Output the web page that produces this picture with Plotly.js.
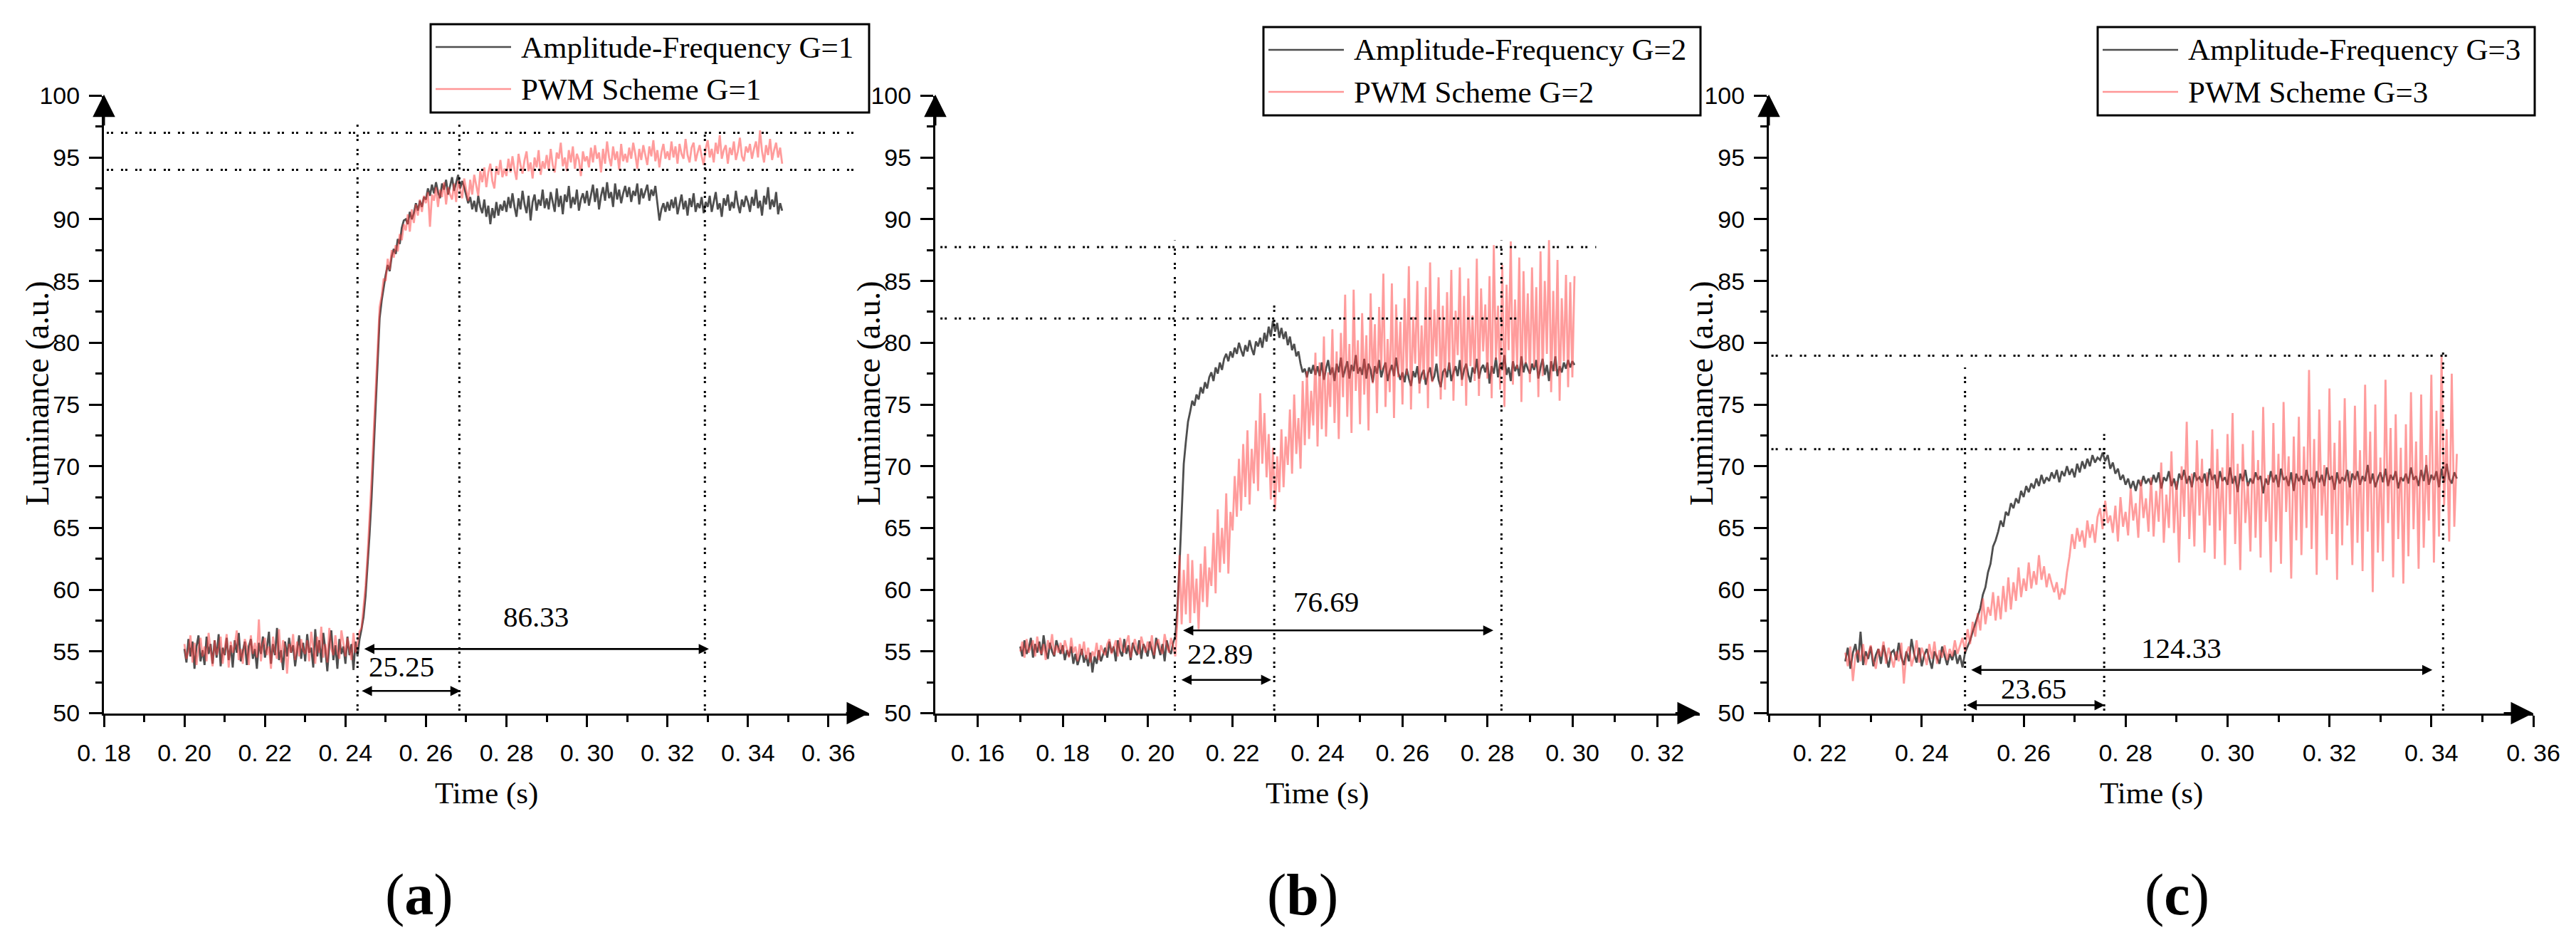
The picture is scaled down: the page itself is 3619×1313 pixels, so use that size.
<!DOCTYPE html>
<html>
<head>
<meta charset="utf-8">
<script src="https://cdn.plot.ly/plotly-3.0.1.min.js"></script>
<style>
  html, body { margin: 0; padding: 0; background: #fff; }
  #chart { width: 3619px; height: 1313px; }
</style>
</head>
<body>
<div id="chart"></div>
<script>
// Luminance step responses at 0.5 ms resolution
const SAMPLE_STEP = 0.0005;
const startG1 = 0.200, startG2 = 0.170, startG3 = 0.225;

// (a) G=1
const ampFreqG1 = [
  55.2, 54.1, 56.0, 54.6, 55.8, 53.6, 55.4, 56.3, 54.2, 55.1, 53.9, 56.2, 54.8, 55.6, 54.0, 55.9, 54.5, 56.4, 53.8, 55.3,
  54.7, 56.1, 54.3, 55.5, 53.7, 55.9, 54.9, 56.5, 54.2, 55.0, 55.8, 53.9, 55.4, 56.0, 54.4, 55.2, 53.6, 55.7, 54.8, 56.2,
  54.5, 55.3, 56.6, 54.0, 55.6, 54.7, 56.9, 54.3, 55.1, 53.5, 55.8, 54.6, 56.1, 54.9, 55.5, 53.8, 55.0, 56.3, 54.4, 55.7,
  54.2, 56.4, 54.9, 55.3, 53.7, 56.8, 54.6, 55.9, 54.1, 56.5, 55.2, 53.4, 55.6, 56.7, 54.3, 55.5, 53.6, 56.0, 54.8, 55.4,
  54.0, 56.2, 54.7, 55.6, 53.5, 55.8, 54.6, 56.0, 56.8, 57.8, 59.5, 61.8, 64.5, 67.5, 71.0, 75.0, 78.8, 82.0, 83.4, 84.6,
  85.5, 86.3, 85.8, 87.0, 87.6, 87.2, 88.4, 88.0, 89.3, 89.9, 90.0, 89.6, 90.6, 90.0, 90.5, 91.3, 90.7, 91.5, 91.0, 91.8,
  91.6, 92.5, 91.9, 92.8, 92.1, 93.0, 92.2, 91.7, 92.9, 92.4, 93.2, 92.0, 92.7, 93.4, 92.3, 92.9, 93.6, 92.5, 93.1, 92.6,
  92.0, 91.3, 91.8, 90.8, 91.5, 90.6, 91.9, 91.0, 90.5, 91.6, 90.2, 91.1, 89.6, 90.9, 90.1, 91.4, 90.3, 91.2, 90.7, 91.5,
  90.6, 91.8, 90.9, 92.1, 91.0, 90.2, 91.7, 90.8, 92.3, 91.2, 90.5, 91.9, 89.9, 91.4, 92.0, 90.7, 91.6, 91.1, 92.4, 90.9,
  91.7, 90.8, 92.2, 91.3, 90.6, 92.5, 91.0, 91.9, 90.4, 92.0, 91.4, 92.7, 90.9, 91.8, 91.2, 92.4, 90.7, 91.6, 92.1, 91.3,
  92.3, 91.1, 92.0, 92.8, 91.4, 92.5, 90.8, 91.9, 92.6, 91.5, 93.0, 91.7, 92.2, 91.0, 92.9, 91.6, 92.4, 91.3, 92.1, 92.7,
  91.8, 92.6, 91.4, 92.3, 91.9, 92.9, 91.2, 92.5, 91.7, 92.2, 92.8, 91.5, 92.4, 91.9, 92.7, 91.3, 89.9, 90.8, 91.3, 90.6,
  91.4, 90.7, 91.6, 90.9, 91.8, 90.4, 91.2, 92.0, 90.8, 91.5, 90.3, 91.7, 91.0, 92.1, 90.6, 91.3, 90.9, 91.8, 90.5, 91.4,
  91.0, 91.9, 90.6, 91.5, 92.2, 90.8, 91.3, 90.2, 91.7, 91.1, 92.0, 90.7, 91.4, 90.9, 92.3, 91.2, 90.5, 91.6, 91.0, 91.9,
  91.4, 90.6, 91.8, 91.1, 92.4, 90.9, 91.5, 90.3, 91.9, 91.2, 92.6, 90.8, 91.6, 91.0, 92.2, 90.4, 91.3, 90.7
];
const pwmG1 = [
  55.6, 54.4, 55.0, 56.3, 54.1, 55.7, 53.9, 55.2, 56.1, 54.6, 55.4, 54.2, 56.5, 55.0, 53.8, 55.9, 54.7, 55.3, 56.2, 54.0,
  55.1, 56.4, 53.7, 55.8, 54.9, 55.5, 56.7, 54.3, 55.2, 54.0, 56.0, 55.4, 53.9, 56.3, 54.8, 55.7, 54.5, 57.6, 54.2, 55.6,
  56.1, 54.7, 55.4, 53.6, 56.2, 55.0, 54.4, 56.8, 54.1, 55.9, 55.3, 53.2, 55.6, 54.9, 56.4, 54.3, 55.8, 54.6, 56.0, 55.1,
  54.8, 55.9, 54.2, 56.6, 55.3, 54.0, 56.2, 54.9, 57.0, 54.5, 55.6, 54.1, 56.9, 55.2, 54.7, 56.3, 55.0, 54.4, 56.7, 55.5,
  54.6, 56.1, 55.2, 54.3, 56.5, 54.9, 55.7, 56.6, 56.9, 58.4, 60.3, 62.8, 65.6, 69.0, 72.6, 76.2, 79.8, 82.9, 83.8, 85.2,
  85.0, 86.8, 85.9, 87.5, 86.9, 87.9, 87.4, 88.8, 88.3, 89.6, 89.1, 90.4, 89.0, 90.8, 89.7, 91.2, 90.3, 91.6, 90.6, 91.9,
  91.3, 92.2, 89.4, 92.0, 91.5, 92.6, 91.0, 92.4, 91.8, 93.0, 91.2, 92.6, 92.0, 91.6, 92.9, 91.4, 93.1, 92.3, 91.7, 93.3,
  92.4, 91.5, 93.2, 92.0, 93.6, 92.8, 91.9, 93.9, 93.0, 94.2, 92.6, 93.8, 94.5, 93.1, 92.5, 94.3, 93.6, 94.8, 93.4, 94.1,
  93.5, 94.9, 93.8, 95.1, 94.0, 93.2, 95.3, 94.4, 93.7, 94.8, 95.5, 93.9, 94.6, 93.3, 95.0, 94.2, 95.6, 93.6, 94.7, 94.1,
  95.2, 94.0, 95.7, 94.4, 93.8, 95.4, 94.9, 96.2, 94.3, 95.0, 93.9, 95.6, 94.6, 95.9, 94.1, 95.3, 94.8, 93.5, 95.5, 94.7,
  95.1, 94.2, 95.8, 94.6, 96.0, 94.9, 95.4, 93.8, 95.7, 94.5, 96.3, 95.0, 94.3, 95.9, 94.8, 95.5, 94.0, 96.1, 94.7, 95.3,
  94.6, 95.8, 94.9, 96.2, 95.3, 94.1, 95.7, 94.8, 96.0, 95.2, 94.4, 95.9, 95.1, 96.4, 94.7, 95.6, 94.2, 95.4, 96.1, 94.9,
  95.5, 94.8, 96.3, 95.0, 95.9, 94.5, 96.1, 95.3, 94.9, 96.5, 95.2, 94.6, 95.8, 96.2, 94.7, 95.4, 96.0, 95.1, 94.4, 95.7,
  96.4, 95.0, 95.7, 94.6, 96.2, 95.3, 96.8, 94.9, 95.6, 96.0, 94.5, 95.8, 95.2, 96.3, 94.8, 95.5, 96.6, 95.1, 94.7, 95.9,
  95.4, 96.1, 94.9, 95.7, 96.3, 95.0, 97.2, 95.5, 94.6, 96.0, 95.2, 96.5, 94.8, 95.6, 96.2, 95.0, 95.8, 94.5
];

// (b) G=2
const ampFreqG2 = [
  55.4, 54.6, 55.9, 54.8, 55.2, 56.1, 54.5, 55.6, 54.9, 55.8, 54.7, 56.3, 55.1, 54.4, 55.7, 55.0, 54.6, 55.9, 55.3, 54.8,
  55.5, 54.3, 55.1, 54.6, 55.4, 54.0, 54.8, 53.9, 54.5, 55.2, 54.1, 54.7, 53.8, 54.9, 53.3, 54.6, 54.0, 55.1, 54.2, 54.8,
  55.3, 54.5, 55.8, 54.9, 55.4, 54.2, 55.9, 55.0, 54.6, 56.0, 54.8, 55.5, 54.3, 55.7, 55.1, 54.7, 55.9, 54.4, 55.6, 55.2,
  54.6, 55.8, 55.0, 54.4, 56.1, 55.3, 54.7, 55.6, 54.2, 55.9, 55.1, 54.8, 55.7, 56.2, 58.5, 62.0, 66.5, 70.2, 72.0, 73.6,
  74.4, 75.3, 74.9, 75.8, 75.4, 76.4, 75.9, 76.8, 76.3, 77.2, 77.6, 76.9, 78.0, 77.5, 78.4, 77.8, 78.7, 79.1, 78.5, 79.3,
  78.8, 79.6, 79.1, 80.0, 79.4, 78.9, 79.8, 79.3, 80.2, 79.5, 79.0, 80.1, 79.7, 80.4, 79.6, 80.8, 80.1, 81.3, 80.5, 81.8,
  80.9, 81.6, 80.4, 81.2, 80.3, 80.9, 79.8, 80.5, 79.4, 79.9, 78.9, 79.3, 78.3, 77.6, 77.9, 77.2, 78.0, 77.5, 78.2, 77.4,
  78.1, 77.3, 78.4, 77.0, 77.9, 78.6, 77.4, 78.0, 76.9, 78.3, 77.6, 78.8, 77.2, 77.9, 78.5, 77.1, 78.2, 77.7, 79.0, 77.5,
  78.0, 77.4, 78.7, 77.1, 78.3, 77.8, 76.8, 78.1, 77.5, 78.6, 77.2, 77.9, 78.4, 76.9, 77.7, 78.2, 77.3, 78.8, 77.6, 77.0,
  77.6, 76.8, 77.9, 77.1, 76.5, 77.7, 77.2, 78.1, 76.7, 77.4, 77.8, 76.6, 77.5, 78.0, 76.9, 77.3, 78.3, 77.0, 76.4, 77.6,
  77.9, 77.2, 78.4, 76.9, 77.6, 78.1, 77.3, 78.6, 77.0, 77.8, 78.3, 77.4, 76.8, 78.0, 77.5, 78.7, 77.1, 77.9, 78.2, 77.6,
  78.4, 76.7, 78.1, 77.5, 78.8, 77.2, 78.3, 77.8, 79.0, 77.4, 78.0, 76.9, 78.5, 77.7, 78.2, 77.3, 78.9, 77.6, 78.4, 77.9,
  77.5, 78.3, 77.8, 78.6, 77.1, 78.0, 78.7, 77.4, 78.2, 76.9, 78.5, 77.7, 78.9, 77.3, 78.1, 77.6, 78.4, 77.9, 78.6, 78.0,
  78.5, 78.2
];
const pwmG2 = [
  55.0, 55.8, 54.5, 56.0, 54.9, 55.4, 55.9, 54.6, 56.2, 55.1, 54.8, 55.6, 54.3, 55.9, 55.2, 56.4, 54.7, 55.5, 54.9, 55.7,
  54.8, 55.9, 55.2, 54.5, 56.1, 54.9, 55.4, 54.2, 55.6, 54.7, 55.8, 54.4, 55.3, 54.1, 55.0, 54.6, 55.7, 54.3, 55.5, 55.0,
  54.7, 55.6, 56.0, 54.8, 55.3, 55.9, 54.6, 56.1, 55.2, 54.9, 55.7, 56.3, 54.5, 55.4, 56.0, 55.1, 54.8, 56.2, 55.5, 54.9,
  55.8, 55.1, 56.3, 54.7, 55.6, 56.0, 55.2, 54.8, 56.4, 55.5, 54.9, 56.1, 55.4, 54.6, 57.5, 62.8, 57.2, 61.6, 58.0, 62.9,
  57.3, 62.4, 58.1, 60.9, 56.8, 62.1, 59.0, 63.5, 58.6, 61.8, 60.3, 64.6, 59.7, 66.5, 61.4, 65.0, 62.1, 67.8, 61.3, 66.3,
  64.8, 69.2, 65.9, 70.6, 66.4, 71.8, 67.5, 72.9, 66.9, 71.4, 68.6, 73.7, 68.0, 75.9, 70.2, 74.3, 69.1, 72.6, 67.3, 71.5,
  66.5, 70.8, 67.9, 73.0, 68.3, 72.4, 70.1, 74.6, 69.4, 75.8, 71.0, 73.9, 69.8, 76.9, 71.7, 77.7, 72.2, 76.1, 73.3, 79.2,
  71.6, 78.4, 73.0, 80.5, 72.4, 77.6, 74.8, 81.1, 73.5, 79.3, 72.2, 80.8, 75.6, 83.9, 74.0, 79.9, 72.7, 84.3, 76.1, 80.2,
  73.4, 82.4, 75.8, 80.6, 72.9, 84.0, 76.7, 81.5, 74.3, 82.9, 77.8, 85.6, 74.8, 80.3, 76.0, 84.8, 73.9, 83.1, 77.2, 81.7,
  75.0, 83.6, 77.4, 86.2, 74.6, 82.1, 78.3, 85.0, 75.9, 81.4, 77.0, 84.5, 74.7, 86.5, 76.8, 82.7, 78.9, 85.3, 75.4, 83.0,
  76.2, 84.1, 77.8, 85.9, 75.3, 82.6, 79.0, 86.1, 76.5, 83.8, 74.9, 85.2, 78.1, 82.2, 76.9, 86.8, 75.7, 84.4, 79.3, 83.1,
  77.1, 85.4, 75.5, 87.9, 78.6, 83.0, 76.2, 86.3, 74.8, 84.7, 79.4, 88.2, 76.6, 83.5, 77.9, 86.9, 75.2, 85.8, 78.3, 84.0,
  76.8, 86.1, 78.0, 84.5, 75.6, 87.4, 77.3, 85.0, 79.1, 88.3, 76.0, 84.2, 77.7, 86.7, 75.3, 83.6, 78.5, 85.5, 76.4, 84.9,
  77.2, 85.4
];

// (c) G=3
const ampFreqG3 = [
  54.2, 55.3, 53.6, 54.9, 55.6, 54.1, 56.6, 53.9, 55.0, 54.4, 55.4, 53.8, 54.7, 55.2, 54.0, 55.5, 54.6, 53.7, 54.9, 55.1,
  54.3, 55.7, 54.5, 53.9, 55.0, 54.2, 56.0, 54.8, 54.1, 55.3, 53.8, 54.7, 55.2, 54.4, 53.6, 55.0, 54.5, 54.0, 55.4, 54.6,
  53.9, 54.8, 54.3, 55.1, 54.0, 54.7, 53.7, 54.9, 55.4, 55.9, 56.6, 57.2, 57.9, 58.5, 59.6, 60.2, 61.4, 62.1, 63.5, 64.0,
  64.7, 65.6, 65.1, 66.3, 66.0, 67.0, 66.6, 67.4, 67.0, 68.0, 67.5, 68.4, 67.9, 68.6, 68.2, 69.0, 68.4, 69.3, 68.6, 69.1,
  68.8, 69.5, 69.0, 69.7, 68.7, 69.6, 69.2, 70.0, 69.3, 69.8, 69.1, 70.2, 69.5, 70.4, 69.8, 70.6, 70.0, 70.9, 70.3, 70.7,
  70.5, 71.1, 70.4, 70.9, 69.8, 70.3, 69.4, 69.8, 68.9, 69.3, 68.5, 69.0, 68.2, 68.8, 68.0, 68.9, 68.4, 69.2, 68.6, 69.0,
  68.5, 69.3, 68.7, 69.5, 68.2, 69.1, 68.8, 69.6, 68.4, 69.0, 68.1, 69.4, 68.9, 69.7, 68.6, 69.2, 68.3, 69.5, 68.9, 69.1,
  68.7, 69.4, 68.4, 69.8, 68.9, 69.3, 68.2, 69.6, 68.8, 69.1, 68.5, 69.9, 68.6, 69.2, 67.9, 69.4, 68.8, 69.7, 68.4, 69.0,
  68.6, 69.5, 68.9, 69.2, 67.8, 69.0, 68.5, 69.6, 68.7, 69.3, 68.3, 69.8, 68.9, 69.1, 68.4, 69.5, 68.0, 69.4, 68.8, 69.2,
  68.5, 69.7, 68.8, 69.0, 68.2, 69.6, 68.7, 69.3, 68.4, 69.9, 68.9, 69.2, 68.1, 69.5, 68.6, 69.1, 68.8, 69.7, 68.3, 69.4,
  68.9, 69.6, 68.5, 69.2, 68.8, 70.1, 68.6, 69.4, 68.3, 69.0, 69.5, 68.7, 69.8, 68.4, 69.3, 68.9, 69.6, 68.2, 69.1, 68.8,
  69.4, 68.6, 69.9, 68.9, 69.2, 68.4, 69.7, 68.8, 70.1, 68.5, 69.3, 68.9, 69.6, 68.3, 69.8, 68.7, 70.2, 69.0, 68.6, 69.5,
  69.0
];
const pwmG3 = [
  54.9, 53.8, 55.4, 52.6, 54.7, 55.1, 54.2, 55.6, 53.9, 54.8, 55.5, 54.3, 53.6, 55.2, 54.6, 55.8, 54.0, 55.3, 54.5, 53.7,
  55.0, 54.2, 55.7, 52.4, 54.9, 55.4, 53.8, 54.6, 55.9, 54.1, 55.3, 54.7, 53.9, 55.6, 54.4, 55.8, 54.0, 55.1, 54.5, 55.5,
  54.3, 55.2, 54.6, 55.9, 54.8, 55.4, 56.1, 55.0, 56.8, 55.6, 57.4, 56.2, 58.1, 56.7, 59.3, 57.2, 58.6, 57.9, 59.8, 57.5,
  59.5, 57.6, 60.3, 58.2, 61.0, 58.4, 60.6, 59.1, 61.8, 59.4, 60.9, 59.9, 62.2, 60.1, 61.5, 60.4, 62.8, 60.8, 61.9, 60.2,
  61.3, 60.5, 59.8, 60.6, 59.2, 60.1, 59.6, 61.4, 62.7, 64.5, 63.3, 65.0, 63.9, 64.8, 63.4, 65.6, 64.2, 65.3, 63.8, 65.9,
  66.6, 64.9, 67.2, 65.4, 66.0, 64.6, 66.8, 63.9, 67.5, 65.1, 66.3, 64.4, 68.2, 65.6, 67.0, 64.2, 68.9, 65.8, 67.4, 64.7,
  69.1, 64.3, 68.0, 65.5, 70.3, 63.8, 67.7, 65.0, 71.2, 64.6, 68.8, 62.2, 70.0, 65.9, 73.6, 64.1, 69.4, 63.5, 72.1, 66.0,
  70.6, 63.0, 69.5, 65.2, 73.0, 62.5, 71.4, 64.8, 69.9, 62.0, 72.6, 66.1, 74.3, 63.7, 70.2, 61.6, 71.8, 65.4, 68.7, 63.1,
  72.9, 64.2, 70.5, 62.6, 74.8, 65.5, 69.3, 61.4, 73.5, 63.9, 71.0, 62.1, 75.2, 66.3, 70.8, 60.9, 72.4, 64.0, 74.0, 62.8,
  71.6, 65.0, 77.8, 63.3, 72.2, 61.2, 74.6, 66.0, 70.1, 62.4, 76.3, 64.5, 71.9, 60.8, 73.7, 63.6, 75.5, 65.2, 69.6, 62.0,
  74.9, 63.8, 71.3, 61.5, 76.6, 64.7, 72.8, 59.8, 75.0, 63.0, 70.7, 62.3, 77.0, 65.4, 73.1, 61.0, 74.2, 64.1, 71.5, 60.5,
  73.4, 62.7, 76.0, 64.9, 72.0, 61.7, 75.8, 63.4, 70.9, 65.6, 77.4, 62.2, 74.5, 64.3, 79.0, 66.8, 73.0, 63.9, 77.5, 65.1,
  71.0
];

// tick labels
const yTicks = [50, 55, 60, 65, 70, 75, 80, 85, 90, 95, 100];
const xTicksG1 = [0.18, 0.20, 0.22, 0.24, 0.26, 0.28, 0.30, 0.32, 0.34, 0.36];
const xTicksG2 = [0.16, 0.18, 0.20, 0.22, 0.24, 0.26, 0.28, 0.30, 0.32];
const xTicksG3 = [0.22, 0.24, 0.26, 0.28, 0.30, 0.32, 0.34, 0.36];

// dotted reference levels (a.u.) and instants (s)
const levelsG1 = [97.0, 94.0];
const instantsG1 = [0.2430, 0.2683, 0.3293];
const levelsG2 = [87.75, 81.96];
const instantsG2 = [0.2064, 0.2298, 0.2833];
const levelsG3 = [78.95, 71.38];
const instantsG3 = [0.2485, 0.2758, 0.3423];

// measured intervals (ms) and their start / end times (s)
const intervalLabelsG1 = ['25.25', '86.33'];
const intervalStartG1 = [0.2438, 0.2444];
const intervalEndG1 = [0.2686, 0.3303];
const intervalLabelsG2 = ['22.89', '76.69'];
const intervalStartG2 = [0.2077, 0.2081];
const intervalEndG2 = [0.2291, 0.2814];
const intervalLabelsG3 = ['23.65', '124.33'];
const intervalStartG3 = [0.2486, 0.2495];
const intervalEndG3 = [0.2759, 0.3402];

const W = 3619, H = 1313;
const px = x => x / W;
const py = y => 1 - y / H;
const SERIF = 'Liberation Serif, Times New Roman, serif';
const SANS = 'Liberation Sans, Arial, sans-serif';
const GREY = 'rgb(78,78,78)';
const PINK = 'rgba(255,66,66,0.52)';
const DOTS = '3px,3px,3px,11px';
const plotTop = 134.5, plotBottom = 1001.5;

const panels = [
  { tag: 'a', G: 1, t0: startG1, af: ampFreqG1, pwm: pwmG1, xticks: xTicksG1,
    dom: [146, 1221], range: [0.18, 0.3701],
    levels: levelsG1, levelFrom: 0.1807, levelTo: [0.368, 0.368],
    instants: instantsG1, instantTop: [97.8, 97.8, 97.4],
    ivLabels: intervalLabelsG1, ivStart: intervalStartG1, ivEnd: intervalEndG1,
    ivY: [51.8, 55.2], ivTextX: [0.2540, 0.2873], ivTextY: [53.8, 57.8],
    legend: [605, 1221, 34], yTitleX: 52, tagX: 589 },
  { tag: 'b', G: 2, t0: startG2, af: ampFreqG2, pwm: pwmG2, xticks: xTicksG2,
    dom: [1314, 2388], range: [0.15, 0.33],
    levels: levelsG2, levelFrom: 0.1512, levelTo: [0.3056, 0.2876],
    instants: instantsG2, instantTop: [88.3, 83.3, 88.3],
    ivLabels: intervalLabelsG2, ivStart: intervalStartG2, ivEnd: intervalEndG2,
    ivY: [52.7, 56.7], ivTextX: [0.2171, 0.2420], ivTextY: [54.8, 59.0],
    legend: [1775, 2389, 38], yTitleX: 1220, tagX: 1830 },
  { tag: 'c', G: 3, t0: startG3, af: ampFreqG3, pwm: pwmG3, xticks: xTicksG3,
    dom: [2485, 3559], range: [0.21, 0.36],
    levels: levelsG3, levelFrom: 0.2105, levelTo: [0.3434, 0.2768],
    instants: instantsG3, instantTop: [78.0, 72.6, 79.35],
    ivLabels: intervalLabelsG3, ivStart: intervalStartG3, ivEnd: intervalEndG3,
    ivY: [50.65, 53.5], ivTextX: [0.2620, 0.2910], ivTextY: [52.0, 55.3],
    legend: [2947, 3561, 38], yTitleX: 2390, tagX: 3058 }
];

function sampleTimes(t0, n) {
  return Array.from({ length: n }, (_, i) => +(t0 + i * SAMPLE_STEP).toFixed(4));
}

function fmtTime(t) {
  return '0. ' + t.toFixed(2).slice(2);
}

function minorTimes(range, majors) {
  const out = [];
  for (let k = Math.ceil(range[0] * 100 - 1e-6); k / 100 < range[1] - 0.005; k++) {
    const v = k / 100;
    if (!majors.some(m => Math.abs(m - v) < 1e-6)) out.push(v);
  }
  return out;
}

// centred text at a paper position given in pixels
function paperText(x, y, text, size, extra) {
  return Object.assign({ xref: 'paper', yref: 'paper', x: px(x), y: py(y),
    xanchor: 'center', yanchor: 'middle', text, showarrow: false,
    font: { family: SERIF, size, color: '#000' } }, extra || {});
}

const traces = [];
const layout = {
  width: W, height: H,
  margin: { l: 0, r: 0, t: 0, b: 0 },
  paper_bgcolor: '#fff', plot_bgcolor: 'rgba(0,0,0,0)',
  showlegend: false,
  shapes: [], annotations: []
};

panels.forEach((p, i) => {
  const n = i === 0 ? '' : String(i + 1);
  const xr = 'x' + n, yr = 'y' + n;

  traces.push({
    x: sampleTimes(p.t0, p.af.length), y: p.af, xaxis: xr, yaxis: yr,
    type: 'scatter', mode: 'lines', name: 'Amplitude-Frequency G=' + p.G,
    line: { color: GREY, width: 2.8 }, hoverinfo: 'skip'
  });
  traces.push({
    x: sampleTimes(p.t0, p.pwm.length), y: p.pwm, xaxis: xr, yaxis: yr,
    type: 'scatter', mode: 'lines', name: 'PWM Scheme G=' + p.G,
    line: { color: PINK, width: 2.8 }, hoverinfo: 'skip'
  });

  layout['xaxis' + n] = {
    domain: [px(p.dom[0]), px(p.dom[1])], range: p.range, anchor: yr,
    tickmode: 'array', tickvals: p.xticks, ticktext: p.xticks.map(fmtTime),
    ticks: 'outside', ticklen: 16, tickwidth: 3, tickcolor: '#000',
    minor: { tickmode: 'array', tickvals: minorTimes(p.range, p.xticks),
             ticks: 'outside', ticklen: 9, tickwidth: 3, tickcolor: '#000' },
    ticklabelstandoff: 8,
    tickfont: { family: SANS, size: 34, color: '#000' },
    showline: true, linewidth: 3, linecolor: '#000',
    showgrid: false, zeroline: false, fixedrange: true
  };
  layout['yaxis' + n] = {
    domain: [py(plotBottom), py(plotTop)], range: [50, 100], anchor: xr,
    tickmode: 'array', tickvals: yTicks, ticktext: yTicks.map(String),
    ticks: 'outside', ticklen: 18, tickwidth: 3, tickcolor: '#000',
    minor: { tickmode: 'linear', tick0: 50, dtick: 2.5,
             ticks: 'outside', ticklen: 9, tickwidth: 3, tickcolor: '#000' },
    ticklabelstandoff: 6,
    tickfont: { family: SANS, size: 34, color: '#000' },
    showline: true, linewidth: 3, linecolor: '#000',
    showgrid: false, zeroline: false, fixedrange: true
  };

  // dotted guides
  p.levels.forEach((lv, k) => {
    layout.shapes.push({ type: 'line', xref: xr, yref: yr, x0: p.levelFrom, x1: p.levelTo[k], y0: lv, y1: lv,
      line: { color: '#000', width: 3, dash: DOTS } });
  });
  p.instants.forEach((t, k) => {
    layout.shapes.push({ type: 'line', xref: xr, yref: yr, x0: t, x1: t, y0: 50.2, y1: p.instantTop[k],
      line: { color: '#000', width: 3, dash: DOTS } });
  });

  // interval arrows and labels
  p.ivLabels.forEach((lab, k) => {
    layout.annotations.push({ xref: xr, yref: yr, axref: xr, ayref: yr,
      x: p.ivEnd[k], y: p.ivY[k], ax: p.ivStart[k], ay: p.ivY[k], text: '',
      showarrow: true, arrowside: 'end+start', arrowhead: 2, arrowsize: 1.1, arrowwidth: 2.6, arrowcolor: '#000' });
    layout.annotations.push({ xref: xr, yref: yr, x: p.ivTextX[k], y: p.ivTextY[k], text: lab,
      xanchor: 'center', yanchor: 'middle', showarrow: false,
      font: { family: SERIF, size: 41, color: '#000' } });
  });

  // axis arrowheads
  layout.annotations.push({ xref: xr, yref: yr, axref: xr, ayref: yr,
    x: p.range[0], y: 100.1, ax: p.range[0], ay: 97.5, text: '',
    showarrow: true, arrowhead: 2, arrowsize: 2.1, arrowwidth: 3, arrowcolor: '#000' });
  layout.annotations.push({ xref: xr, yref: yr, axref: xr, ayref: yr,
    x: p.range[1], y: 50, ax: p.range[1] - 0.006, ay: 50, text: '',
    showarrow: true, arrowhead: 2, arrowsize: 2.1, arrowwidth: 3, arrowcolor: '#000' });

  // axis titles
  layout.annotations.push(paperText(p.yTitleX, 553, 'Luminance (a.u.)', 46, { textangle: -90 }));
  layout.annotations.push(paperText((p.dom[0] + p.dom[1]) / 2, 1114, 'Time (s)', 43));

  // panel tag
  layout.annotations.push(paperText(p.tagX, 1256, '(<b>' + p.tag + '</b>)', 82));

  // legend box
  const [lx0, lx1, ly0] = p.legend;
  const ly1 = ly0 + 124;
  layout.shapes.push({ type: 'rect', xref: 'paper', yref: 'paper',
    x0: px(lx0), x1: px(lx1), y0: py(ly1), y1: py(ly0),
    line: { color: '#000', width: 3 }, fillcolor: 'rgba(0,0,0,0)' });
  const rows = [ly0 + 32, ly0 + 91];
  const entries = [
    { text: 'Amplitude-Frequency G=' + p.G, color: GREY },
    { text: 'PWM Scheme G=' + p.G, color: 'rgb(255,150,150)' }
  ];
  entries.forEach((e, k) => {
    layout.shapes.push({ type: 'line', xref: 'paper', yref: 'paper',
      x0: px(lx0 + 7), x1: px(lx0 + 113), y0: py(rows[k]), y1: py(rows[k]),
      line: { color: e.color, width: 2.5 } });
    layout.annotations.push(paperText(lx0 + 125, rows[k], e.text, 43, { xanchor: 'left' }));
  });
});

Plotly.newPlot('chart', traces, layout, { displayModeBar: false, responsive: false });
</script>
</body>
</html>
